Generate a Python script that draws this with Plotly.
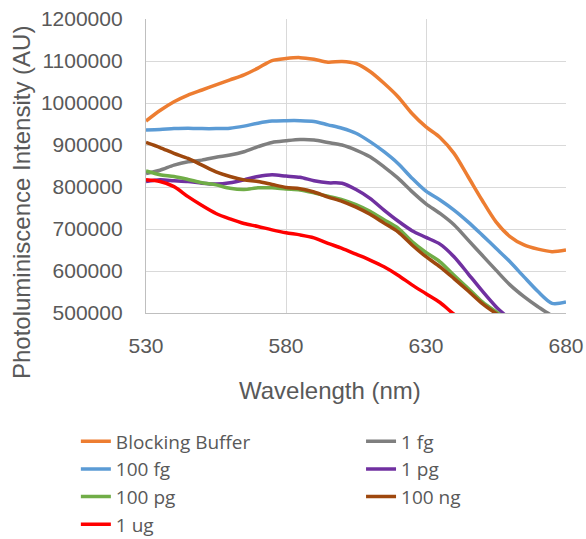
import plotly.graph_objects as go

wavelength = list(range(530, 681, 5))

blocking_buffer = [957000, 982000, 1003000, 1019000, 1031000, 1043000, 1055000, 1067000, 1083000, 1101000, 1106000,
                   1108000, 1104000, 1097000, 1099000, 1094000, 1075000, 1047000, 1015000, 975000, 943000,
                   918000, 880000, 825000, 769000, 717000, 682000, 662000, 652000, 646000, 650000]
fg_1 = [832000, 840000, 852000, 860000, 864000, 871000, 876000, 884000, 896000, 906000, 910000,
        913000, 912000, 906000, 900000, 888000, 872000, 848000, 821000, 789000, 760000,
        737000, 710000, 674000, 638000, 602000, 567000, 539000, 515000, 494000, 485000]
fg_100 = [936000, 937000, 939000, 940000, 939000, 939000, 940000, 945000, 952000, 957000, 958000,
          958000, 956000, 948000, 940000, 928000, 908000, 884000, 856000, 821000, 790000,
          769000, 745000, 717000, 686000, 654000, 622000, 586000, 551000, 523000, 526000]
pg_1 = [813000, 817000, 815000, 813000, 809000, 807000, 810000, 817000, 825000, 829000, 826000,
        823000, 815000, 810000, 809000, 794000, 773000, 745000, 719000, 696000, 680000,
        664000, 634000, 594000, 553000, 515000, 485000]
pg_100 = [838000, 829000, 825000, 818000, 810000, 805000, 797000, 794000, 798000, 798000, 795000,
          793000, 786000, 778000, 770000, 758000, 742000, 722000, 702000, 670000, 644000,
          622000, 590000, 559000, 527000, 503000, 482000]
ng_100 = [906000, 894000, 880000, 868000, 852000, 836000, 825000, 817000, 813000, 806000, 799000,
          796000, 788000, 776000, 766000, 752000, 735000, 714000, 693000, 662000, 634000,
          610000, 582000, 553000, 523000, 499000, 478000]
ug_1 = [817000, 813000, 801000, 777000, 756000, 737000, 724000, 713000, 706000, 698000, 691000,
        686000, 679000, 666000, 654000, 640000, 626000, 610000, 590000, 567000, 546000,
        525000, 497000, 475000]

x_title = "Wavelength (nm)"
y_title = "Photoluminiscence Intensity (AU)"

# (name, values, colour, legend column)
series = [
    ("Blocking Buffer", blocking_buffer, "#ED7D31", "legend"),
    ("1 fg", fg_1, "#7F7F7F", "legend2"),
    ("100 fg", fg_100, "#5B9BD5", "legend"),
    ("1 pg", pg_1, "#7030A0", "legend2"),
    ("100 pg", pg_100, "#70AD47", "legend"),
    ("100 ng", ng_100, "#9E480E", "legend2"),
    ("1 ug", ug_1, "#FF0000", "legend"),
]

fig = go.Figure()
for name, vals, color, leg in series:
    fig.add_trace(go.Scatter(
        x=wavelength[:len(vals)], y=vals, name=name, mode="lines", legend=leg,
        line=dict(color=color, width=3.5, shape="spline", smoothing=0.8),
    ))

font_family = "Liberation Sans, Arial, sans-serif"
txt = "#595959"

legend_common = dict(
    orientation="v", xanchor="left", yanchor="top", y=-0.372,
    font=dict(size=19, color=txt, family="Open Sans, sans-serif"), bgcolor="rgba(0,0,0,0)",
    traceorder="normal", tracegroupgap=0,
)

fig.update_layout(
    width=586, height=539,
    margin=dict(l=146, r=20, t=19, b=226, autoexpand=False),
    paper_bgcolor="white", plot_bgcolor="white",
    font=dict(family=font_family, color=txt, size=21),
    showlegend=True,
    legend=dict(x=-0.167, **legend_common),
    legend2=dict(x=0.512, **legend_common),
    xaxis=dict(
        range=[530, 680], dtick=50, tick0=530,
        showgrid=True, gridcolor="#D9D9D9", gridwidth=1.3,
        showline=True, linecolor="#BFBFBF", linewidth=1.3,
        ticks="", ticklabelstandoff=14,
        tickfont=dict(size=21, color=txt),
        zeroline=False,
    ),
    yaxis=dict(
        range=[500000, 1200000], dtick=100000, tickformat="d",
        showgrid=True, gridcolor="#D9D9D9", gridwidth=1.3,
        showline=True, linecolor="#BFBFBF", linewidth=1.3,
        ticks="", ticklabelstandoff=18,
        tickfont=dict(size=21, color=txt),
        zeroline=False,
    ),
    annotations=[
        dict(text=x_title, xref="paper", yref="paper", x=0.438, y=-0.262,
             xanchor="center", yanchor="middle", showarrow=False,
             font=dict(size=24, color=txt)),
        dict(text=y_title, xref="paper", yref="paper", x=-0.2976, y=0.374,
             xanchor="center", yanchor="middle", textangle=-90, showarrow=False,
             font=dict(size=24, color=txt)),
    ],
)

fig.write_html("out.html")
